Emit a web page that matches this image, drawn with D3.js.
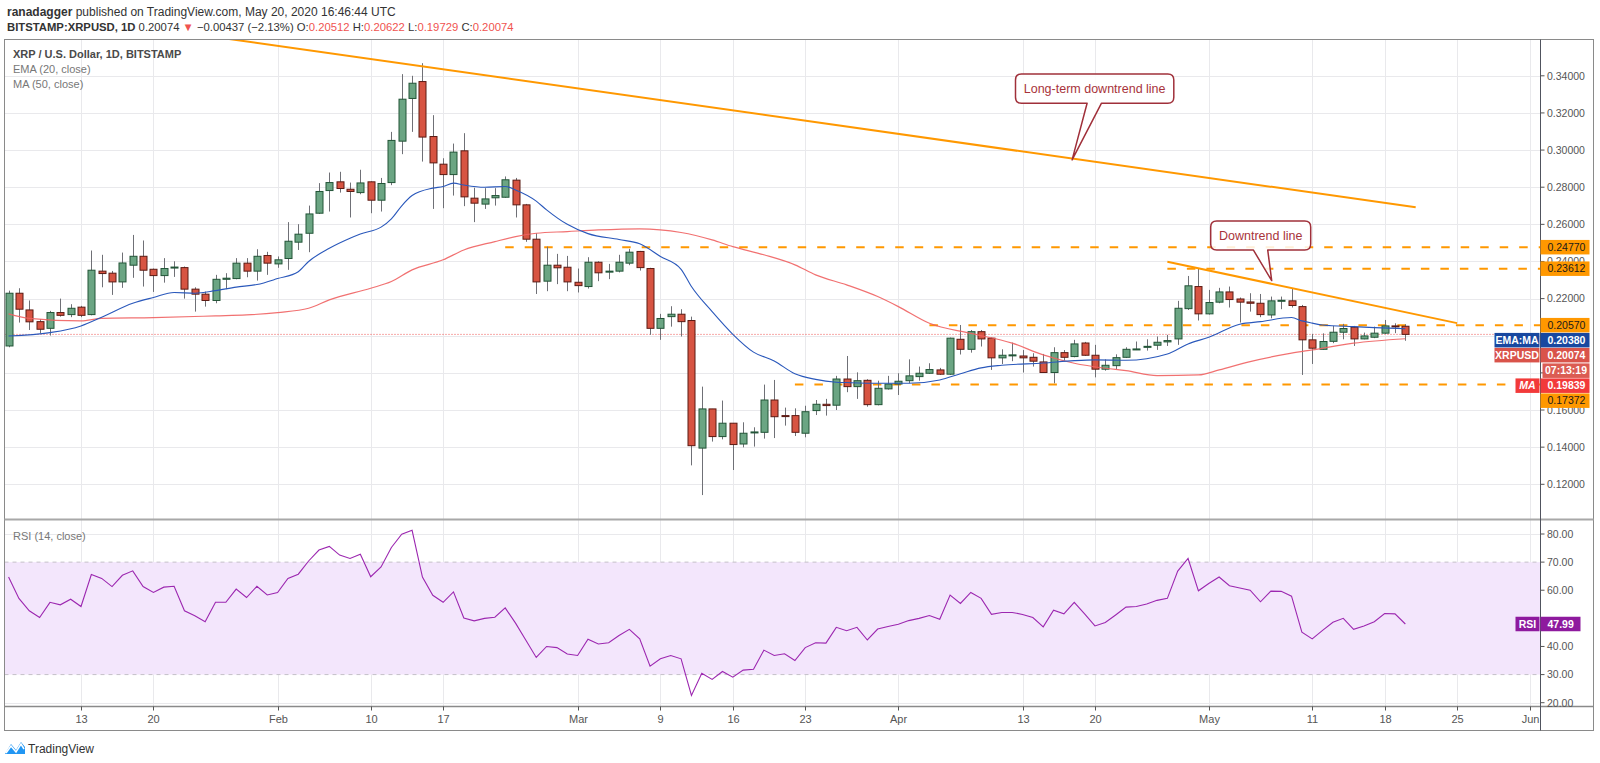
<!DOCTYPE html>
<html><head><meta charset="utf-8">
<script src="https://cdn.jsdelivr.net/npm/d3@7"></script>
<style>
body{margin:0;background:#fff;}
svg{display:block;font-family:"Liberation Sans",Arial,sans-serif;}
</style>
</head><body>
<svg id="chart" width="1600" height="763"></svg>
<script>
// ---------------- DATA ----------------
const startDate = "2020-01-06";
const openP = [0.1945,0.2229,0.2139,0.2076,0.2040,0.2125,0.2114,0.2154,0.2114,0.2348,0.2337,0.2290,0.2380,0.2428,0.2358,0.2324,0.2366,0.2367,0.2251,0.2224,0.2190,0.2304,0.2308,0.2391,0.2348,0.2432,0.2387,0.2416,0.2504,0.2552,0.2660,0.2782,0.2829,0.2789,0.2771,0.2829,0.2730,0.2825,0.3048,0.3278,0.3369,0.3073,0.2924,0.2868,0.2996,0.2741,0.2709,0.2743,0.2746,0.2838,0.2705,0.2520,0.2294,0.2380,0.2369,0.2288,0.2265,0.2396,0.2343,0.2348,0.2391,0.2454,0.2362,0.2040,0.2103,0.2116,0.2082,0.1395,0.1606,0.1457,0.1529,0.1417,0.1478,0.1480,0.1654,0.1570,0.1570,0.1475,0.1597,0.1631,0.1626,0.1767,0.1726,0.1760,0.1629,0.1714,0.1740,0.1758,0.1780,0.1798,0.1816,0.1793,0.1981,0.1927,0.2022,0.1987,0.1881,0.1895,0.1891,0.1884,0.1859,0.1802,0.1909,0.1888,0.1961,0.1895,0.1820,0.1839,0.1884,0.1927,0.1938,0.1949,0.1967,0.1983,0.2146,0.2265,0.2118,0.2181,0.2236,0.2198,0.2182,0.2175,0.2112,0.2188,0.2188,0.2157,0.1978,0.1927,0.1970,0.2019,0.2046,0.1983,0.1992,0.2014,0.2053,0.20512];
const highP = [0.2243,0.2256,0.2190,0.2089,0.2134,0.2200,0.2170,0.2161,0.2459,0.2436,0.2349,0.2448,0.2543,0.2513,0.2362,0.2418,0.2401,0.2373,0.2261,0.2238,0.2328,0.2337,0.2418,0.2418,0.2466,0.2452,0.2427,0.2612,0.2601,0.2701,0.2822,0.2879,0.2883,0.2825,0.2894,0.2832,0.2850,0.3098,0.3409,0.3400,0.3468,0.3188,0.2956,0.3035,0.3091,0.2797,0.2795,0.2795,0.2858,0.2850,0.2710,0.2552,0.2480,0.2441,0.2430,0.2362,0.2423,0.2401,0.2387,0.2436,0.2468,0.2457,0.2366,0.2118,0.2159,0.2143,0.2103,0.1726,0.1606,0.1651,0.1529,0.1534,0.1507,0.1737,0.1762,0.1613,0.1609,0.1623,0.1654,0.1660,0.1784,0.1891,0.1803,0.1766,0.1758,0.1784,0.1798,0.1873,0.1834,0.1852,0.1827,0.1990,0.2058,0.2031,0.2031,0.1990,0.1927,0.1963,0.1923,0.1906,0.1902,0.1938,0.1923,0.1978,0.1967,0.1951,0.1873,0.1900,0.1938,0.1969,0.1981,0.1996,0.2005,0.2188,0.2322,0.2362,0.2247,0.2258,0.2265,0.2206,0.2229,0.2225,0.2211,0.2211,0.2256,0.2166,0.2010,0.2013,0.2053,0.2064,0.2053,0.2017,0.2049,0.2085,0.2067,0.20622];
const lowP = [0.1938,0.2071,0.2031,0.2013,0.2001,0.2103,0.2100,0.2100,0.2110,0.2261,0.2220,0.2258,0.2312,0.2265,0.2236,0.2286,0.2317,0.2200,0.2130,0.2157,0.2175,0.2251,0.2304,0.2315,0.2297,0.2328,0.2366,0.2355,0.2462,0.2450,0.2656,0.2669,0.2771,0.2637,0.2762,0.2660,0.2669,0.2811,0.2978,0.3098,0.2938,0.2683,0.2687,0.2755,0.2698,0.2612,0.2683,0.2701,0.2743,0.2637,0.2506,0.2225,0.2240,0.2278,0.2240,0.2233,0.2254,0.2294,0.2305,0.2341,0.2380,0.2351,0.2005,0.1978,0.2049,0.1996,0.1302,0.1142,0.1430,0.1442,0.1277,0.1399,0.1403,0.1446,0.1449,0.1516,0.1460,0.1453,0.1573,0.1570,0.1600,0.1696,0.1660,0.1618,0.1625,0.1710,0.1681,0.1744,0.1758,0.1794,0.1789,0.1789,0.1899,0.1909,0.1942,0.1816,0.1848,0.1863,0.1802,0.1834,0.1800,0.1744,0.1866,0.1884,0.1891,0.1776,0.1812,0.1820,0.1880,0.1923,0.1920,0.1924,0.1945,0.1951,0.2139,0.2082,0.2114,0.2175,0.2152,0.2071,0.2130,0.2100,0.2094,0.2143,0.2152,0.1789,0.1848,0.1924,0.1960,0.1981,0.1945,0.1981,0.1987,0.2010,0.2014,0.19729];
const closeP = [0.2229,0.2143,0.2075,0.2035,0.2125,0.2110,0.2148,0.2110,0.2353,0.2335,0.2290,0.2392,0.2428,0.2353,0.2324,0.2362,0.2370,0.2251,0.2224,0.2190,0.2304,0.2310,0.2391,0.2348,0.2428,0.2391,0.2409,0.2509,0.2547,0.2656,0.2777,0.2825,0.2793,0.2777,0.2823,0.2730,0.2820,0.3052,0.3274,0.3360,0.3070,0.2931,0.2868,0.2989,0.2748,0.2714,0.2737,0.2755,0.2840,0.2705,0.2520,0.2290,0.2380,0.2366,0.2290,0.2270,0.2396,0.2339,0.2348,0.2396,0.2450,0.2367,0.2040,0.2093,0.2116,0.2076,0.1408,0.1606,0.1457,0.1529,0.1414,0.1475,0.1482,0.1654,0.1564,0.1566,0.1480,0.1591,0.1631,0.1624,0.1767,0.1726,0.1758,0.1629,0.1717,0.1740,0.1755,0.1784,0.1798,0.1818,0.1793,0.1987,0.1927,0.2022,0.1983,0.1881,0.1895,0.1897,0.1881,0.1863,0.1802,0.1909,0.1884,0.1956,0.1895,0.1820,0.1841,0.1882,0.1927,0.1929,0.1943,0.1965,0.1974,0.2148,0.2269,0.2118,0.2179,0.2236,0.2195,0.2181,0.2175,0.2114,0.2188,0.2191,0.2163,0.1978,0.1933,0.1969,0.2019,0.2039,0.1983,0.1999,0.2014,0.2053,0.2051,0.20074];

const emaDays = [0,4,7,9,12,14,16,18,20,22,24,26,28,29,31,33,34,36,37,38,39,41,42,43,44,46,48,49,51,52,54,56,59,61,63,65,66,68,70,72,74,76,78,80,81,84,87,90,92,94,96,100,103,105,108,112,114,116,119,121,124,125,126,127,130,132,135];
const emaVals = [0.1999,0.2017,0.2053,0.2100,0.2175,0.2206,0.2233,0.2229,0.2243,0.2262,0.2276,0.2308,0.2345,0.2400,0.2471,0.2525,0.2548,0.2585,0.2630,0.2700,0.2755,0.2795,0.2804,0.2822,0.2812,0.2800,0.2804,0.2785,0.2725,0.2678,0.2600,0.2550,0.2518,0.2495,0.2427,0.2358,0.2265,0.2130,0.2008,0.1912,0.1864,0.1795,0.1765,0.1750,0.1748,0.1744,0.1744,0.1762,0.1795,0.1827,0.1841,0.1853,0.1866,0.1870,0.1868,0.1902,0.1956,0.1992,0.2062,0.2076,0.2098,0.2080,0.2068,0.2058,0.2049,0.2044,0.2038];
const maDays = [0,2,7,9,14,20,23,26,29,31,35,37,39,42,44,47,49,51,54,57,61,65,68,70,73,76,78,81,84,86,89,93,97,100,103,106,108,111,115,117,120,124,126,130,135];
const maVals = [0.2118,0.2094,0.2080,0.2094,0.2098,0.2107,0.2112,0.2125,0.2148,0.2193,0.2256,0.2292,0.2355,0.2409,0.2462,0.2507,0.2534,0.2552,0.2561,0.2570,0.2576,0.2556,0.2516,0.2480,0.2436,0.2382,0.2328,0.2274,0.2211,0.2157,0.2067,0.2013,0.1960,0.1897,0.1852,0.1825,0.1812,0.1785,0.1789,0.1816,0.1861,0.1906,0.1924,0.1960,0.1984];
const rsiVals = [64.7,57.1,52.7,50.3,55.7,54.8,56.8,54.2,65.6,64.2,61.3,65.3,66.9,61.3,59.2,61.1,61.4,52.7,50.9,48.8,55.7,55.7,60.4,57.4,61.4,58.3,59.2,64.2,65.7,70.4,74.3,75.6,72.5,71.3,72.8,64.8,68.3,75.2,79.9,81.3,64.7,58.2,55.7,59.4,50.1,49.1,50.0,50.4,53.7,48.3,42.2,36.1,40.0,39.6,37.3,36.8,42.6,40.9,41.3,43.9,46.1,42.7,33.0,35.6,36.8,35.6,22.6,30.5,28.3,31.1,29.1,31.6,31.9,38.7,36.8,37.4,35.0,39.6,41.3,41.2,46.8,45.6,46.8,42.3,46.2,47.1,47.9,49.2,50.0,51.0,49.7,58.3,55.3,59.2,57.1,51.4,52.1,52.1,51.4,50.3,47.0,52.9,51.6,55.7,51.6,47.3,48.5,51.2,54.0,54.2,55.1,56.4,57.1,66.8,71.3,59.8,62.4,64.7,61.6,60.8,60.0,55.9,59.7,59.6,57.9,45.1,42.7,45.7,48.6,50.0,46.1,47.3,48.8,51.7,51.6,47.99];

const priceTicks = [0.12,0.14,0.16,0.18,0.20,0.22,0.24,0.26,0.28,0.30,0.32,0.34];
const rsiTicks = [20,30,40,50,60,70,80];
const rsiGrid = [20,40,50,60,80];
const xTickDates = ["2020-01-13","2020-01-20","2020-02-01","2020-02-10","2020-02-17","2020-03-01","2020-03-09","2020-03-16","2020-03-23","2020-04-01","2020-04-13","2020-04-20","2020-05-01","2020-05-11","2020-05-18","2020-05-25","2020-06-01"];
const xTickLabels = ["13","20","Feb","10","17","Mar","9","16","23","Apr","13","20","May","11","18","25","Jun"];

const levelVals = [0.24770,0.23612,0.20570,0.17372];
const levelStarts = ["2020-02-23","2020-04-27","2020-04-04","2020-03-22"];
const longTrend = [["2020-01-21",0.3648],["2020-05-21",0.2692]];
const shortTrend = [["2020-04-27",0.2399],["2020-05-25",0.2068]];
const lastPrice = 0.20074, emaLast = 0.20380, maLast = 0.19839, rsiLast = 47.99;
const countdown = "07:13:19";
const callouts = [
  {text:"Long-term downtrend line", date:"2020-04-17T19:00:00Z", price:0.2947},
  {text:"Downtrend line", date:"2020-05-07T02:00:00Z", price:0.2297}
];

// ---------------- LAYOUT ----------------
const W = 1600, H = 763;
const L = 4.5, AX = 1540.5, RB = 1593.5, T = 39.5, SEP = 519.5, XA = 706.5, B = 730.5;
const parse = d3.utcParse("%Y-%m-%d");
const parseISO = d3.isoParse;
const start = parse(startDate);
const dates = openP.map((_, i) => d3.utcDay.offset(start, i));

const x = d3.scaleUtc().domain([parse("2020-01-13"), parse("2020-06-01")]).range([81, 1529.5]);
const y = d3.scaleLinear().domain([0.12, 0.34]).range([484.3, 75.8]);
const yr = d3.scaleLinear().domain([20, 80]).range([702.7, 534]);

const svg = d3.select("#chart");
svg.append("rect").attr("width", W).attr("height", H).attr("fill", "#fff");

const defs = svg.append("defs");
defs.append("clipPath").attr("id", "mainClip").append("rect")
  .attr("x", L).attr("y", T).attr("width", AX - L).attr("height", SEP - T);
defs.append("clipPath").attr("id", "rsiClip").append("rect")
  .attr("x", L).attr("y", SEP + 1).attr("width", AX - L).attr("height", XA - SEP - 1);

// grid
const grid = svg.append("g").attr("stroke", "#e9e9ec").attr("stroke-width", 1);
xTickDates.forEach(d => {
  const xx = Math.round(x(parse(d))) + 0.5;
  grid.append("line").attr("x1", xx).attr("x2", xx).attr("y1", T).attr("y2", XA);
});
priceTicks.forEach(p => {
  const yy = Math.round(y(p)) + 0.5;
  grid.append("line").attr("x1", L).attr("x2", AX).attr("y1", yy).attr("y2", yy);
});
rsiGrid.forEach(v => {
  const yy = Math.round(yr(v)) + 0.5;
  grid.append("line").attr("x1", L).attr("x2", AX).attr("y1", yy).attr("y2", yy);
});

// RSI band
svg.append("rect").attr("x", L).attr("width", AX - L)
  .attr("y", yr(70)).attr("height", yr(30) - yr(70)).attr("fill", "#f3e6fc");
[70, 30].forEach(v => {
  svg.append("line").attr("x1", L).attr("x2", AX).attr("y1", yr(v)).attr("y2", yr(v))
    .attr("stroke", "#c4c0c8").attr("stroke-dasharray", "4,4");
});

// ---------------- MAIN PANEL ----------------
const main = svg.append("g").attr("clip-path", "url(#mainClip)");

main.append("line").attr("x1", L).attr("x2", AX).attr("y1", y(lastPrice)).attr("y2", y(lastPrice))
  .attr("stroke", "#ef5350").attr("stroke-width", 1).attr("stroke-dasharray", "1,2");

levelVals.forEach((v, k) => {
  main.append("line").attr("x1", x(parse(levelStarts[k]))).attr("x2", AX)
    .attr("y1", y(v)).attr("y2", y(v))
    .attr("stroke", "#ff9800").attr("stroke-width", 2).attr("stroke-dasharray", "8.5,11");
});

const bw = 7;
const cg = main.append("g");
dates.forEach((d, i) => {
  const cx = Math.round(x(d)) + 0.5;
  const up = closeP[i] >= openP[i];
  cg.append("line").attr("x1", cx).attr("x2", cx).attr("y1", y(highP[i])).attr("y2", y(lowP[i]))
    .attr("stroke", "#6f7076").attr("stroke-width", 1);
  const top = y(Math.max(openP[i], closeP[i])), bot = y(Math.min(openP[i], closeP[i]));
  cg.append("rect").attr("x", cx - bw / 2).attr("width", bw)
    .attr("y", top).attr("height", Math.max(1, bot - top))
    .attr("fill", up ? "#6ba583" : "#d75442")
    .attr("stroke", up ? "#225437" : "#5b1a13").attr("stroke-width", 1);
});

const lineGen = d3.line().x(d => x(d[0])).y(d => y(d[1])).curve(d3.curveMonotoneX);
main.append("path").datum(maDays.map((k, j) => [d3.utcDay.offset(start, k), maVals[j]]))
  .attr("d", lineGen).attr("fill", "none").attr("stroke", "#f06262").attr("stroke-width", 1.2).attr("opacity", 0.9);
main.append("path").datum(emaDays.map((k, j) => [d3.utcDay.offset(start, k), emaVals[j]]))
  .attr("d", lineGen).attr("fill", "none").attr("stroke", "#2a58bb").attr("stroke-width", 1.1);

[longTrend, shortTrend].forEach(tl => {
  main.append("line")
    .attr("x1", x(parse(tl[0][0]))).attr("y1", y(tl[0][1]))
    .attr("x2", x(parse(tl[1][0]))).attr("y2", y(tl[1][1]))
    .attr("stroke", "#ff9800").attr("stroke-width", 2);
});

const calloutGeo = [
  {bx1:-56.6, bx2:101.7, by1:-86, by2:-56.7, t1:15, t2:29.4},
  {bx1:-61, bx2:39, by1:-59.7, by2:-30.7, t1:-18.4, t2:-4}
];
callouts.forEach((c, k) => {
  const tx = x(parseISO(c.date)), ty = y(c.price), g = calloutGeo[k], r = 6;
  const x1 = tx + g.bx1, x2 = tx + g.bx2, y1 = ty + g.by1, y2 = ty + g.by2;
  const p = `M${x1 + r},${y1} H${x2 - r} Q${x2},${y1} ${x2},${y1 + r} V${y2 - r} Q${x2},${y2} ${x2 - r},${y2}` +
    ` H${tx + g.t2} L${tx},${ty} L${tx + g.t1},${y2} H${x1 + r} Q${x1},${y2} ${x1},${y2 - r} V${y1 + r} Q${x1},${y1} ${x1 + r},${y1} Z`;
  main.append("path").attr("d", p).attr("fill", "#fff").attr("fill-opacity", 0.85)
    .attr("stroke", "#a0303a").attr("stroke-width", 1.5).attr("stroke-linejoin", "round");
  main.append("text").attr("x", (x1 + x2) / 2).attr("y", (y1 + y2) / 2 + 4.5)
    .attr("text-anchor", "middle").attr("font-size", 12.5).attr("fill", "#a8333b").text(c.text);
});

// ---------------- RSI PANEL ----------------
const rsiG = svg.append("g").attr("clip-path", "url(#rsiClip)");
rsiG.append("path").datum(rsiVals.map((v, i) => [dates[i], v]))
  .attr("d", d3.line().x(d => x(d[0])).y(d => yr(d[1])))
  .attr("fill", "none").attr("stroke", "#9c27b0").attr("stroke-width", 1.1);

// ---------------- FRAME & AXES ----------------
const frame = svg.append("g");
frame.append("rect").attr("x", L).attr("y", T).attr("width", RB - L).attr("height", B - T)
  .attr("fill", "none").attr("stroke", "#8a8a8a").attr("stroke-width", 1);
frame.append("line").attr("x1", L).attr("x2", RB).attr("y1", SEP).attr("y2", SEP)
  .attr("stroke", "#a8a8a8").attr("stroke-width", 2);
frame.append("line").attr("x1", L).attr("x2", RB).attr("y1", XA).attr("y2", XA)
  .attr("stroke", "#8a8a8a").attr("stroke-width", 1.5);
frame.append("line").attr("x1", AX).attr("x2", AX).attr("y1", T).attr("y2", B)
  .attr("stroke", "#50535e").attr("stroke-width", 1);

const xg = svg.append("g").attr("font-size", 11).attr("fill", "#555").attr("text-anchor", "middle");
xTickDates.forEach((d, k) => {
  const xx = Math.round(x(parse(d))) + 0.5;
  xg.append("line").attr("x1", xx).attr("x2", xx).attr("y1", XA).attr("y2", XA + 4).attr("stroke", "#555");
  xg.append("text").attr("x", xx).attr("y", 723).text(xTickLabels[k]);
});

// price labels with collision layout (computed first so covered tick labels can be skipped)
const fmt5 = d3.format(".5f"), fmt2 = d3.format(".2f");
const labs = [
  ...levelVals.map(v => ({v, fill:"#ff9800", tc:"#1a1a1a", bold:false})),
  {v: emaLast, fill:"#1848a0", tc:"#fff", bold:true, tag:"EMA:MA", tagX:1494.5},
  {v: lastPrice, fill:"#d9534a", tc:"#fff", bold:true, tag:"XRPUSD", tagX:1494.5, extra:countdown},
  {v: maLast, fill:"#f23a3a", tc:"#fff", bold:true, tag:"MA", tagX:1515.5, italicTag:true}
].sort((a, b) => b.v - a.v);
const hh = 7.25, gap = 15.5;
let prevBottom = -1e9;
const boxCenters = [];
labs.forEach(l => {
  let cy = y(l.v);
  if (cy - hh < prevBottom + 0.5) cy = prevBottom + 0.5 + hh;
  l.cy = cy;
  boxCenters.push(cy);
  if (l.extra) boxCenters.push(cy + gap);
  prevBottom = cy + hh + (l.extra ? gap : 0);
});
const ry = yr(rsiLast);
boxCenters.push(ry);
const covered = yy => boxCenters.some(c => Math.abs(c - yy) < 6.5);

const pg = svg.append("g").attr("font-size", 10.5).attr("fill", "#555");
priceTicks.forEach(p => {
  pg.append("line").attr("x1", AX).attr("x2", AX + 4).attr("y1", y(p)).attr("y2", y(p)).attr("stroke", "#555");
  if (!covered(y(p))) pg.append("text").attr("x", 1547).attr("y", y(p) + 3.8).text(fmt5(p));
});
rsiTicks.forEach(v => {
  pg.append("line").attr("x1", AX).attr("x2", AX + 4).attr("y1", yr(v)).attr("y2", yr(v)).attr("stroke", "#555");
  if (!covered(yr(v))) pg.append("text").attr("x", 1547).attr("y", yr(v) + 3.8).text(fmt2(v));
});

const lg = svg.append("g").attr("font-size", 10.5);
labs.forEach(l => {
  lg.append("rect").attr("x", AX).attr("y", l.cy - hh).attr("width", 49).attr("height", hh * 2).attr("fill", l.fill);
  lg.append("text").attr("x", 1547.5).attr("y", l.cy + 3.8).attr("fill", l.tc)
    .attr("font-weight", l.bold ? "bold" : "normal").text(fmt5(l.v));
  if (l.tag) {
    lg.append("rect").attr("x", l.tagX).attr("y", l.cy - hh).attr("width", AX - 1 - l.tagX).attr("height", hh * 2).attr("fill", l.fill);
    lg.append("text").attr("x", (l.tagX + AX - 1) / 2).attr("y", l.cy + 3.8).attr("text-anchor", "middle")
      .attr("fill", "#fff").attr("font-weight", "bold").attr("font-style", l.italicTag ? "italic" : "normal").text(l.tag);
  }
  if (l.extra) {
    lg.append("rect").attr("x", AX + 2).attr("y", l.cy + gap - hh).attr("width", 47).attr("height", hh * 2).attr("fill", l.fill).attr("opacity", 0.95);
    lg.append("text").attr("x", AX + 25.5).attr("y", l.cy + gap + 3.8).attr("text-anchor", "middle")
      .attr("fill", "#fff").attr("font-weight", "bold").text(l.extra);
  }
});
lg.append("rect").attr("x", 1515.5).attr("y", ry - hh).attr("width", 24).attr("height", hh * 2).attr("fill", "#8e1a9e");
lg.append("text").attr("x", 1527.5).attr("y", ry + 3.8).attr("text-anchor", "middle").attr("fill", "#fff").attr("font-weight", "bold").text("RSI");
lg.append("rect").attr("x", AX).attr("y", ry - hh).attr("width", 40).attr("height", hh * 2).attr("fill", "#8e1a9e");
lg.append("text").attr("x", 1547.5).attr("y", ry + 3.8).attr("fill", "#fff").attr("font-weight", "bold").text(fmt2(rsiLast));

// ---------------- TEXTS ----------------
const h1 = svg.append("text").attr("x", 7).attr("y", 16).attr("font-size", 12).attr("fill", "#333");
h1.append("tspan").attr("font-weight", "bold").text("ranadagger");
h1.append("tspan").text(" published on TradingView.com, May 20, 2020 16:46:44 UTC");

const h2 = svg.append("text").attr("x", 7).attr("y", 30.5).attr("font-size", 11.3).attr("fill", "#333");
const red = "#f05350";
h2.append("tspan").attr("font-weight", "bold").text("BITSTAMP:XRPUSD, 1D");
h2.append("tspan").text(" " + closeP[closeP.length - 1].toFixed(5) + " ");
h2.append("tspan").attr("fill", red).text("▼");
h2.append("tspan").text(" −0.00437 (−2.13%) O:");
h2.append("tspan").attr("fill", red).text(openP[openP.length - 1].toFixed(5));
h2.append("tspan").text(" H:");
h2.append("tspan").attr("fill", red).text(highP[highP.length - 1].toFixed(5));
h2.append("tspan").text(" L:");
h2.append("tspan").attr("fill", red).text(lowP[lowP.length - 1].toFixed(5));
h2.append("tspan").text(" C:");
h2.append("tspan").attr("fill", red).text(closeP[closeP.length - 1].toFixed(5));

svg.append("text").attr("x", 13).attr("y", 58).attr("font-size", 11).attr("font-weight", "bold").attr("fill", "#4a4a4a")
  .text("XRP / U.S. Dollar, 1D, BITSTAMP");
svg.append("text").attr("x", 13).attr("y", 73).attr("font-size", 11).attr("fill", "#777").text("EMA (20, close)");
svg.append("text").attr("x", 13).attr("y", 88).attr("font-size", 11).attr("fill", "#777").text("MA (50, close)");
svg.append("text").attr("x", 13).attr("y", 539.5).attr("font-size", 11).attr("fill", "#777").text("RSI (14, close)");

const logo = svg.append("g").attr("transform", "translate(5,741)");
logo.append("path").attr("d", "M0,13 L6,3 L11,9 L16,1 L20,6 L20,13 Z").attr("fill", "#2196f3");
logo.append("path").attr("d", "M1,12 L6,5 L11,11 L16,3 L19,8").attr("fill", "none").attr("stroke", "#fff").attr("stroke-width", 1.5);
svg.append("text").attr("x", 28).attr("y", 753).attr("font-size", 12).attr("fill", "#333").text("TradingView");
</script>
</body></html>
